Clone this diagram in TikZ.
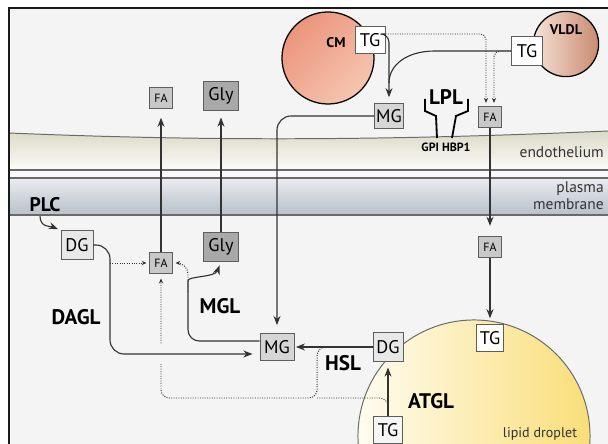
\documentclass[tikz,border=0pt]{standalone}
\usepackage{fontspec}
\setmainfont{PT Sans}
\usepackage{tikz}
\usetikzlibrary{arrows.meta,calc}
\definecolor{frame}{HTML}{1A1A1A}
\definecolor{bgc}{HTML}{F4F4F4}
\definecolor{wall}{HTML}{DCDAC6}
\definecolor{memtop}{HTML}{E9ECEF}
\definecolor{membot}{HTML}{B9C0CA}
\definecolor{rim}{HTML}{6A6A6A}
\definecolor{boxline}{HTML}{5E5E5E}
\definecolor{palefill}{HTML}{E8E8E8}
\definecolor{mgfill}{HTML}{D6D6D6}
\definecolor{fafill}{HTML}{C8C8C8}
\definecolor{glyfill}{HTML}{A9A9A9}
\definecolor{cmdark}{HTML}{EB957B}
\definecolor{cmlight}{HTML}{F6C5B0}
\definecolor{vlight}{HTML}{F6E2D6}
\definecolor{vdark}{HTML}{C98B70}
\definecolor{ldpale}{HTML}{FFFCF0}
\definecolor{ldyel}{HTML}{F9DE78}
\definecolor{arr}{HTML}{333333}
\definecolor{txt}{HTML}{333333}

\begin{document}
\begin{tikzpicture}[x=0.025cm,y=-0.025cm,>={Stealth[length=6.5pt,width=5pt]},
  mol/.style={draw=boxline,line width=0.7pt,inner sep=0pt,minimum width=0.75cm,minimum height=0.66cm,font=\fontsize{13}{13}\selectfont},
  fa/.style={mol,fill=fafill,minimum width=0.56cm,minimum height=0.54cm,font=\fontsize{8.5}{9}\selectfont},
  enz/.style={inner sep=1pt,font=\bfseries\fontsize{15}{15}\selectfont},
  lipo/.style={circle,draw=black,line width=0.9pt},
  flow/.style={draw=arr,line width=0.8pt,->},
  side/.style={draw=arr,densely dotted,line width=0.7pt,-{Stealth[length=3.5pt,width=3pt]}},
  leg/.style={draw=black,line width=1.3pt}]
  \useasboundingbox (0,0) rectangle (608,444);
  % background, endothelium and plasma membrane
  \fill[white] (0,0) rectangle (608,444);
  \fill[bgc] (9,8) rectangle (608,444);
  \shade[top color=wall,middle color=wall!75!white,bottom color=white!90!wall]
    (9,133) .. controls (200,141) and (380,141) .. (608,131) -- (608,170) -- (9,170) -- cycle;
  \fill[white!50!bgc] (9,170) rectangle (608,178);
  \shade[top color=memtop,bottom color=membot] (9,178) rectangle (608,215);
  \draw[rim,line width=0.7pt] (9,133) .. controls (200,141) and (380,141) .. (608,131);
  \foreach \yy in {170,178,215} \draw[rim,line width=0.8pt] (9,\yy) -- (608,\yy);
  \draw[frame,line width=1.5pt] (9,444) -- (9,8) -- (608,8);
  \node[anchor=east,inner sep=0pt,text=txt,font=\fontsize{11}{11}\selectfont] (endo) at (604,152) {endothelium};
  \node[anchor=east,inner sep=0pt,align=right,text=txt,font=\fontsize{11}{12}\selectfont] (pm) at (604,196) {plasma\\membrane};

  % lipoproteins and lipid droplet
  \node[lipo,minimum size=2.3cm,top color=cmdark,bottom color=cmlight,shading angle=45] (cm) at (328,58) {};
  \node[lipo,minimum size=1.63cm,left color=vlight,right color=vdark] (vldl) at (566,44) {};
  \node[font=\bfseries\fontsize{10}{10}\selectfont] (cmlab) at (336,43) {CM};
  \node[font=\bfseries\fontsize{10}{10}\selectfont] (vlab) at (566,30) {VLDL};
  \shadedraw[left color=ldpale,right color=ldyel,draw=rim,line width=0.7pt] (474,436) circle[radius=2.9cm];
  \node[text=txt,font=\fontsize{10}{10}\selectfont] (ld) at (540,434) {lipid droplet};

  % LPL anchored by GPIHBP1
  \draw[leg] (425,99) -- (425,111) -- (436,116) -- (437,138);
  \draw[leg] (468,99) -- (468,111) -- (456,116) -- (452,138);
  \node[enz] (lpl) at (446,97) {LPL};
  \node[font=\bfseries\fontsize{8.5}{9}\selectfont] (gpi) at (446,147) {GPI HBP1};

  % molecules
  \node[mol,fill=white] (cmtg) at (370,40) {TG};
  \node[mol,fill=white,minimum width=0.78cm,minimum height=0.7cm] (vtg) at (527,51) {TG};
  \node[mol,fill=mgfill,minimum width=0.72cm,minimum height=0.63cm] (mgt) at (389,116) {MG};
  \node[fa] (fat) at (490,117) {FA};
  \node[fa] (fam) at (490,247) {FA};
  \node[mol,fill=white!70!ldpale,minimum width=0.68cm,minimum height=0.68cm] (tgd) at (490,338) {TG};
  \node[mol,fill=palefill,minimum height=0.72cm] (dgd) at (388,347) {DG};
  \node[mol,fill=white!60!palefill,minimum width=0.72cm,minimum height=0.65cm] (tgb) at (388,430) {TG};
  \node[mol,fill=mgfill,minimum width=0.85cm,minimum height=0.65cm] (mgm) at (277,347) {MG};
  \node[fa] (fal) at (161,263) {FA};
  \node[fa] (fau) at (161,98) {FA};
  \node[mol,fill=palefill,minimum width=0.8cm,minimum height=0.72cm] (dgl) at (77,245) {DG};
  \node[mol,fill=glyfill,minimum width=0.88cm,minimum height=0.7cm] (glyl) at (221,247) {Gly};
  \node[mol,fill=glyfill,minimum width=0.88cm,minimum height=0.7cm] (glyu) at (221,96) {Gly};

  % enzymes
  \node[enz,font=\bfseries\fontsize{14}{14}\selectfont] (plc) at (45,205) {PLC};
  \node[enz] (dagl) at (76,317) {DAGL};
  \node[enz] (mgl) at (220,306) {MGL};
  \node[enz] (hsl) at (343,363) {HSL};
  \node[enz] (atgl) at (431,401) {ATGL};

  % hydrolysis in the capillary
  \coordinate (join) at ($(mgt.north)+(0,-20)$);
  \draw[flow,rounded corners=6,shorten >=4pt] ($(cmtg.east)+(0,-6)$) -| (mgt.north);
  \draw[arr,line width=0.8pt] (vtg.west) -- ++(-76,0) .. controls +(-28,0) and +(0,-18) .. (join);
  \draw[side,rounded corners=4,shorten >=2pt] ($(cmtg.east)+(0,-6)$) -| ($(fat.north)+(-4,0)$);
  \draw[side,rounded corners=4,shorten >=2pt] (vtg.west) -| ($(fat.north)+(4,0)$);
  \draw[flow,shorten >=7pt] (fat) -- (fam);
  \draw[flow,shorten >=4pt] (fam) -- (tgd);
  \draw[flow,rounded corners=10,shorten >=6pt] (mgt.west) -| (mgm.north);

  % hydrolysis in the cell
  \draw[flow,shorten >=4pt] (tgb) -- (dgd);
  \draw[flow,shorten >=1pt] (dgd) -- (mgm);
  \coordinate (hslp) at ($(dgd.west)!0.62!(mgm.east)$);
  \coordinate (atglp) at ($(tgb.north)+(0,-6)$);
  \coordinate (dotj) at ($(hslp)+(-7,51)$);
  \draw[side,rounded corners=6,shorten >=3pt] (hslp) -- ++(-7,0) -- (dotj) -| (fal.south);
  \draw[arr,densely dotted,line width=0.7pt,rounded corners=6] (atglp) |- (dotj);
  \fill[bgc] ($(fal.south)+(-5,70)$) rectangle ++(10,20);
  \coordinate (dglc) at (110,300);
  \draw[flow,rounded corners=10,shorten >=5pt] (dgl.east) -| (dglc) |- ($(mgm.west)+(0,7)$);
  \draw[side,shorten >=2pt] (dglc |- fal.west) -- (fal.west);
  \coordinate (mglc) at (188,292);
  \draw[flow,rounded corners=8,shorten >=3pt] ($(mgm.west)+(0,-6)$) -| (mglc) .. controls +(0,-16) and +(-6,16) .. (glyl.south);
  \draw[side,rounded corners=8,shorten >=2pt] (mglc) |- (fal.east);
  \draw[flow,shorten >=6pt] (fal) -- (fau);
  \draw[flow,shorten >=5pt] (glyl) -- (glyu);
  \draw[flow,shorten >=2pt] ($(plc.south)+(-5,2)$) .. controls +(0,12) and +(-10,-4) .. (dgl.north west);
\end{tikzpicture}
\end{document}
